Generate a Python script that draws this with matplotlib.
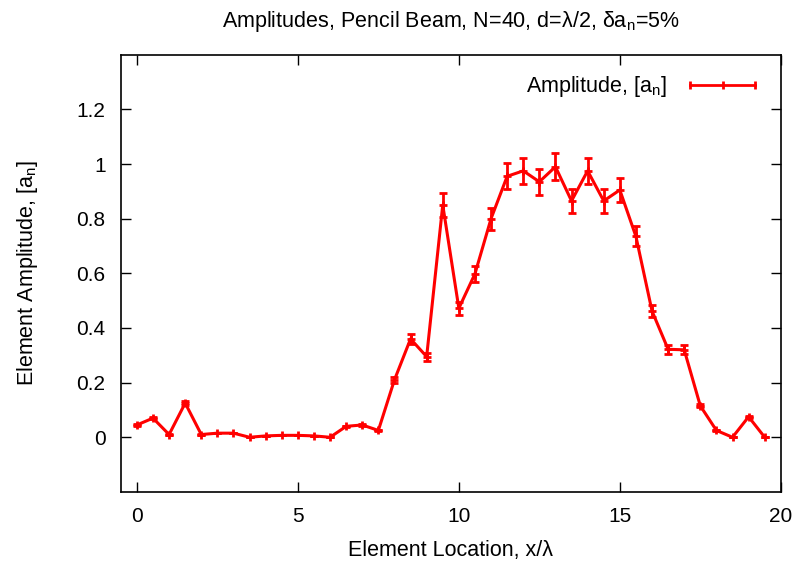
import matplotlib
matplotlib.use('Agg')
import matplotlib.pyplot as plt
from matplotlib.lines import Line2D

plt.rcParams['font.family'] = ['Liberation Sans', 'DejaVu Sans']
plt.rcParams['mathtext.default'] = 'regular'

# element locations (x/lambda) and amplitudes
location = [0, 0.5, 1, 1.5, 2, 2.5, 3, 3.5, 4, 4.5,
            5, 5.5, 6, 6.5, 7, 7.5, 8, 8.5, 9, 9.5,
            10, 10.5, 11, 11.5, 12, 12.5, 13, 13.5, 14, 14.5,
            15, 15.5, 16, 16.5, 17, 17.5, 18, 18.5, 19, 19.5]
amplitude = [0.045, 0.07, 0.01, 0.125, 0.01, 0.015, 0.015, 0.0, 0.005, 0.007,
             0.007, 0.005, 0.0, 0.04, 0.045, 0.025, 0.21, 0.36, 0.295, 0.85,
             0.472, 0.598, 0.80, 0.955, 0.975, 0.935, 0.99, 0.865, 0.975, 0.865,
             0.905, 0.735, 0.462, 0.322, 0.32, 0.115, 0.025, 0.0, 0.075, 0.0]
rel_error = 0.05  # delta a_n = 5%
errors = [rel_error * a for a in amplitude]

xticks = [0, 5, 10, 15, 20]
yticks = [0, 0.2, 0.4, 0.6, 0.8, 1.0, 1.2]
ytick_labels = ['0', '0.2', '0.4', '0.6', '0.8', '1', '1.2']

red = '#ff0000'

fig = plt.figure(figsize=(8, 5.7), dpi=100)
ax = fig.add_axes([0.151, 0.137, 0.825, 0.767])

ax.errorbar(location, amplitude, yerr=errors, color=red, linewidth=2.2,
            elinewidth=2, capsize=3, capthick=2,
            marker='+', markersize=6, markeredgewidth=2)

ax.set_xlim(-0.5, 20)
ax.set_ylim(-0.2, 1.4)
ax.set_xticks(xticks)
ax.set_yticks(yticks)
ax.set_yticklabels(ytick_labels)
ax.tick_params(axis='both', direction='in', top=True, right=True,
               length=7, width=1, labelsize=15)
ax.tick_params(axis='y', pad=11)
ax.tick_params(axis='x', pad=11)
for s in ax.spines.values():
    s.set_linewidth(1.2)

ax.set_title('Amplitudes, Pencil Beam, N=40, d=λ/2, δa$_n$=5%',
             fontsize=15.5, pad=20)
ax.set_xlabel('Element Location, x/λ', fontsize=15.5, labelpad=10)
ax.set_ylabel('Element Amplitude, [a$_n$]', fontsize=15.5, labelpad=26)

# gnuplot style legend sample: line with small vertical ticks
handle = Line2D([], [], color=red, linewidth=2, marker='|',
                markersize=6, markeredgewidth=2)
ax.legend([handle], ['Amplitude, [a$_n$]'], loc='upper right',
          frameon=False, fontsize=15.5, markerfirst=False, numpoints=3,
          handlelength=3.6, handletextpad=0.8, borderaxespad=0.5)

fig.savefig('out.png', dpi=100)
